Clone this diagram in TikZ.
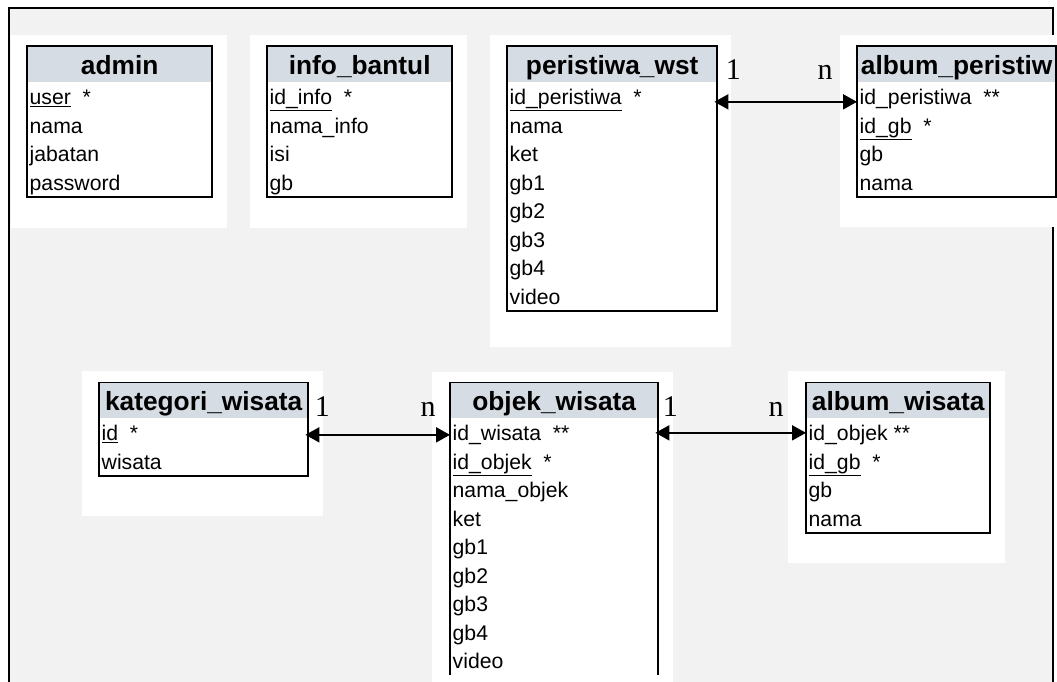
\documentclass[tikz,border=0pt]{standalone}
\usepackage{fontspec}
\setmainfont{Liberation Sans}
\newfontfamily\cardfont{Liberation Serif}
\usepackage{xcolor}
\usetikzlibrary{positioning,arrows.meta,calc}
\definecolor{bggray}{HTML}{F2F2F2}
\definecolor{hdrfill}{HTML}{D6DCE4}

\begin{document}
\begin{tikzpicture}[x=1pt, y=-1pt,
  hdr/.style={rectangle, anchor=north west, fill=hdrfill, inner xsep=0pt,
              inner ysep=0pt, text height=28pt, text depth=8pt,
              font=\fontsize{26.3}{30}\selectfont\bfseries},
  fld/.style={rectangle, anchor=north west, inner xsep=2.5pt, inner ysep=0pt,
              text height=22pt, text depth=6.5pt,
              font=\fontsize{21.2}{24}\selectfont},
  tbl/.style={draw, line width=2pt},
  topline/.style={draw, line width=1pt},
  pnl/.style={fill=white},
  rel/.style={line width=2pt, shorten <=-3pt,
              {Triangle[length=14pt,width=15pt]}-{Triangle[length=14pt,width=15pt]}},
  card/.style={anchor=base, inner sep=0pt, font=\fontsize{30}{34}\selectfont\cardfont}]

\useasboundingbox (0,0) rectangle (1057,682);
\fill[bggray] (9,8) rectangle (1053,690);
\draw[line width=1.5pt] (9,690) -- (9,8) -- (1053,8) -- (1053,690);

\fill[pnl] (11,35) rectangle (227,228);
\fill[pnl] (250,35) rectangle (467,228);
\fill[pnl] (490,35) rectangle (731,347);
\fill[pnl] (840,35) rectangle (1057,227);
\fill[pnl] (82,371) rectangle (323,516);
\fill[pnl] (432,372) rectangle (673,690);
\fill[pnl] (788,371) rectangle (1005,563);

\node[hdr, minimum width=185pt] (admin) at (27,46) {admin};
\foreach \f [count=\i from 0] in {{\underline{user}\ \ *}, nama, jabatan, password}
  \node[fld] (admin-\i) at ([yshift=-\i*28.5pt]admin.south west) {\f};
\draw[tbl] (admin.north west) rectangle (admin.east |- admin-3.south);

\node[hdr, minimum width=185pt] (info) at (267,46) {info\_bantul};
\foreach \f [count=\i from 0] in {{\underline{id\_info}\ \ *}, nama\_info, isi, gb}
  \node[fld] (info-\i) at ([yshift=-\i*28.5pt]info.south west) {\f};
\draw[tbl] (info.north west) rectangle (info.east |- info-3.south);

\node[hdr, minimum width=210pt] (peristiwa) at (507,46) {peristiwa\_wst};
\foreach \f [count=\i from 0] in {{\underline{id\_peristiwa}\ \ *}, nama, ket, gb1, gb2, gb3, gb4, video}
  \node[fld] (peristiwa-\i) at ([yshift=-\i*28.5pt]peristiwa.south west) {\f};
\draw[tbl] (peristiwa.north west) rectangle (peristiwa.east |- peristiwa-7.south);

\node[hdr, minimum width=199pt] (albumP) at (857,46) {album\_peristiw};
\foreach \f [count=\i from 0] in {{id\_peristiwa\ \ **}, {\underline{id\_gb}\ \ *}, gb, nama}
  \node[fld] (albumP-\i) at ([yshift=-\i*28.5pt]albumP.south west) {\f};
\draw[tbl] (albumP.north west) rectangle (albumP.east |- albumP-3.south);

\node[hdr, minimum width=209pt] (kategori) at (99,382) {kategori\_wisata};
\foreach \f [count=\i from 0] in {{\underline{id}\ \ *}, wisata}
  \node[fld] (kategori-\i) at ([yshift=-\i*28.5pt]kategori.south west) {\f};
\draw[tbl] (kategori.north west) |- (kategori.east |- kategori-1.south) -- (kategori.north east);
\draw[topline] (kategori.north west) -- (kategori.north east);

\node[hdr, minimum width=208pt] (objek) at (450,382) {objek\_wisata};
\foreach \f [count=\i from 0] in {{id\_wisata\ \ **}, {\underline{id\_objek}\ \ *}, nama\_objek, ket, gb1, gb2, gb3, gb4, video}
  \node[fld] (objek-\i) at ([yshift=-\i*28.5pt]objek.south west) {\f};
\draw[tbl] (objek.west |- objek-8.south) -- (objek.north west);
\draw[tbl] (objek.north east) -- (objek.east |- objek-8.south);
\draw[topline] (objek.north west) -- (objek.north east);

\node[hdr, minimum width=184pt] (albumW) at (806,382) {album\_wisata};
\foreach \f [count=\i from 0] in {{id\_objek\ **}, {\underline{id\_gb}\ \ *}, gb, nama}
  \node[fld] (albumW-\i) at ([yshift=-\i*28.5pt]albumW.south west) {\f};
\draw[tbl] (albumW.north west) |- (albumW.east |- albumW-3.south) -- (albumW.north east);
\draw[topline] (albumW.north west) -- (albumW.north east);

\draw[rel] ($(peristiwa.east |- peristiwa-0)+(0,5)$) -- ($(albumP.west |- albumP-0)+(0,5)$);
\draw[rel] ($(kategori.east |- kategori-0)+(0,2)$) -- ($(objek.west |- objek-0)+(0,2)$);
\draw[rel] (objek.east |- objek-0) -- (albumW.west |- albumW-0);

\node[card] (one-p) at ([xshift=16pt, yshift=-34pt]peristiwa.north east) {1};
\node[card] (n-p) at ([xshift=-32pt, yshift=-34pt]albumP.north west) {n};
\node[card] (one-k) at ([xshift=14pt, yshift=-34pt]kategori.north east) {1};
\node[card] (n-k) at ([xshift=-22pt, yshift=-34pt]objek.north west) {n};
\node[card] (one-o) at ([xshift=12pt, yshift=-34pt]objek.north east) {1};
\node[card] (n-o) at ([xshift=-30pt, yshift=-34pt]albumW.north west) {n};
\end{tikzpicture}
\end{document}
